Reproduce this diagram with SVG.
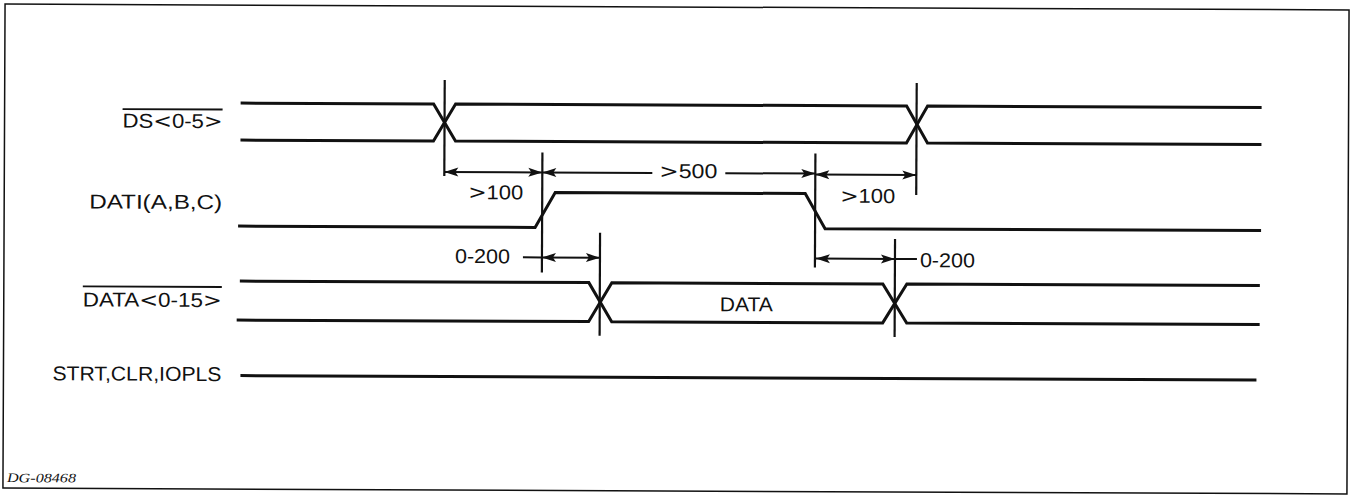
<svg xmlns="http://www.w3.org/2000/svg" width="1353" height="495" viewBox="0 0 1353 495">
<style>
.sig{fill:none;stroke:#111;stroke-width:3;stroke-linejoin:miter}
.ref{fill:none;stroke:#111;stroke-width:2.2}
.dim{fill:none;stroke:#111;stroke-width:2}
.lbl{font-family:"Liberation Sans",Arial,sans-serif;font-size:20px;fill:#111}
.sym{font-family:"DejaVu Sans",sans-serif;font-weight:normal}
.ov{stroke:#111;stroke-width:1.8}
.id{font-family:"Liberation Serif","Times New Roman",serif;font-style:italic;font-size:13px;fill:#111}
</style>
<defs>
<marker id="arr" viewBox="0 0 14 10" refX="14" refY="5" markerWidth="15" markerHeight="10" markerUnits="userSpaceOnUse" orient="auto-start-reverse">
<path d="M0,0.5 L14,5 L0,9.5 L3,5 Z" fill="#111"/>
</marker>
</defs>
<rect width="1353" height="495" fill="#fff"/>
<g transform="rotate(0.25 676 247)">
<rect x="4" y="7" width="1344" height="484" fill="none" stroke="#111" stroke-width="1.5"/>
<g id="ds">
<text class="lbl" x="122" y="130" textLength="100" lengthAdjust="spacingAndGlyphs">DS<tspan class="sym">&lt;</tspan>0-5<tspan class="sym">&gt;</tspan></text>
<line class="ov" x1="122" y1="111.5" x2="222" y2="111.5"/>
<path class="sig" d="M240,105 H433 L455,142 H906 L927,105 H1261"/>
<path class="sig" d="M240,142 H433 L455,105 H906 L927,142 H1261"/>
</g>
<g id="dati">
<text class="lbl" x="89" y="211" textLength="133" lengthAdjust="spacingAndGlyphs">DATI(A,B,C)</text>
<path class="sig" d="M238,228 H535 L555,193 H805 L825,228 H1261"/>
</g>
<g id="data">
<text class="lbl" x="83" y="309" textLength="139" lengthAdjust="spacingAndGlyphs">DATA<tspan class="sym">&lt;</tspan>0-15<tspan class="sym">&gt;</tspan></text>
<line class="ov" x1="83" y1="289" x2="222" y2="289"/>
<path class="sig" d="M240,283 H589 L612,322 H883 L907,283 H1260"/>
<path class="sig" d="M237,322 H589 L612,283 H883 L907,322 H1260"/>
<text class="lbl" x="720" y="311" textLength="53" lengthAdjust="spacingAndGlyphs">DATA</text>
</g>
<g id="strt">
<text class="lbl" x="53" y="383" textLength="169" lengthAdjust="spacingAndGlyphs">STRT,CLR,IOPLS</text>
<path class="sig" d="M241,377.5 H1257"/>
</g>
<g id="connectors">
<line class="ref" x1="444" y1="81" x2="444" y2="177"/>
<line class="ref" x1="916" y1="82" x2="916" y2="194"/>
<line class="ref" x1="542" y1="153" x2="542" y2="273"/>
<line class="ref" x1="815" y1="153" x2="815" y2="267"/>
<line class="ref" x1="600" y1="233" x2="600" y2="336"/>
<line class="ref" x1="895" y1="238" x2="895" y2="336"/>
<path class="dim" d="M444,173 H542" marker-start="url(#arr)" marker-end="url(#arr)"/>
<path class="dim" d="M542,173 H652" marker-start="url(#arr)"/>
<path class="dim" d="M725,173 H815" marker-end="url(#arr)"/>
<path class="dim" d="M815,174 H916" marker-start="url(#arr)" marker-end="url(#arr)"/>
<path class="dim" d="M523,258 H542"/>
<path class="dim" d="M542,258 H600" marker-start="url(#arr)" marker-end="url(#arr)"/>
<path class="dim" d="M816,258 H895" marker-start="url(#arr)" marker-end="url(#arr)"/>
<path class="dim" d="M895,258 H917"/>
<text class="lbl" x="468" y="200" textLength="55" lengthAdjust="spacingAndGlyphs"><tspan class="sym">&gt;</tspan>100</text>
<text class="lbl" x="659" y="178" textLength="58" lengthAdjust="spacingAndGlyphs"><tspan class="sym">&gt;</tspan>500</text>
<text class="lbl" x="840" y="202" textLength="55" lengthAdjust="spacingAndGlyphs"><tspan class="sym">&gt;</tspan>100</text>
<text class="lbl" x="455" y="264" textLength="55" lengthAdjust="spacingAndGlyphs">0-200</text>
<text class="lbl" x="920" y="266" textLength="55" lengthAdjust="spacingAndGlyphs">0-200</text>
</g>
<text class="id" x="8" y="485" textLength="69" lengthAdjust="spacingAndGlyphs">DG-08468</text>
</g>
</svg>
